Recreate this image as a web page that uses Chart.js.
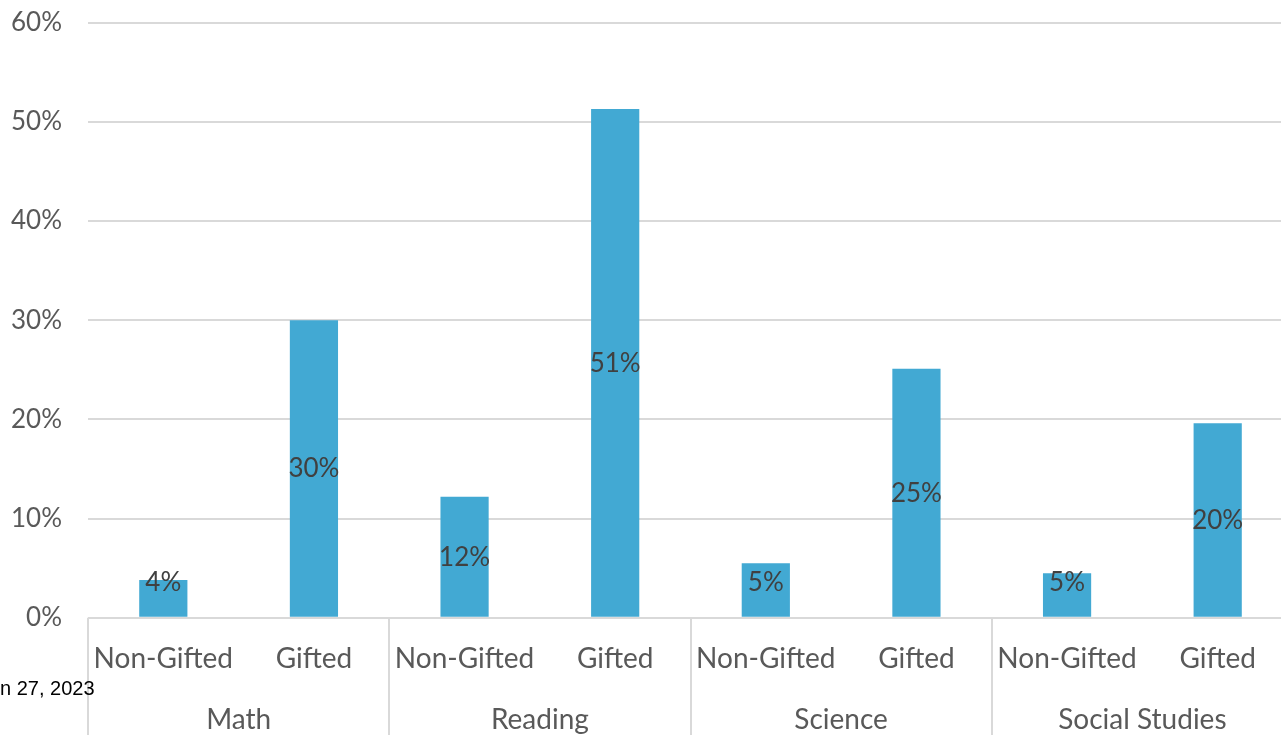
<!DOCTYPE html>
<html>
<head>
<meta charset="utf-8">
<script src="https://cdn.jsdelivr.net/npm/chart.js@4/dist/chart.umd.min.js"></script>
<style>
    html, body {
        margin: 0;
        padding: 0;
        background: #ffffff;
        overflow: hidden;
    }
    .wrap {
        position: absolute;
        left: 0;
        top: -19px;
        width: 1293px;
        height: 761px;
    }
    .stamp {
        position: absolute;
        left: 0;
        top: 677px;
        font-family: "Liberation Sans", Arial, sans-serif;
        font-size: 20px;
        color: #000000;
    }
</style>
</head>
<body>
<div class="wrap">
    <canvas id="myChart"></canvas>
</div>
<div class="stamp">n 27, 2023</div>
<script>
const groups = ['Math', 'Reading', 'Science', 'Social Studies'];
const subLabels = ['Non-Gifted', 'Gifted', 'Non-Gifted', 'Gifted', 'Non-Gifted', 'Gifted', 'Non-Gifted', 'Gifted'];
const values = [0.038, 0.30, 0.122, 0.513, 0.055, 0.251, 0.045, 0.196];
const valueLabels = ['4%', '30%', '12%', '51%', '5%', '25%', '5%', '20%'];
const yTicks = [0, 0.1, 0.2, 0.3, 0.4, 0.5, 0.6];

const gray = '#595959';
const lineGray = '#d9d9d9';
const font = '"Lato", "Open Sans", sans-serif';

// value text in the middle of each bar, kept off the axis for short bars
const barLabels = {
    id: 'barLabels',
    afterDatasetsDraw(chart) {
        const ctx = chart.ctx;
        const meta = chart.getDatasetMeta(0);
        const base = chart.scales.y.getPixelForValue(0);
        ctx.save();
        ctx.font = '26px ' + font;
        ctx.fillStyle = '#404040';
        ctx.textAlign = 'center';
        ctx.textBaseline = 'middle';
        meta.data.forEach((bar, i) => {
            const mid = (bar.y + base) / 2;
            ctx.fillText(valueLabels[i], bar.x, Math.min(mid, base - 35));
        });
        ctx.restore();
    }
};

// vertical separators between the category groups
const groupLines = {
    id: 'groupLines',
    afterDraw(chart) {
        const ctx = chart.ctx;
        const x = chart.scales.x;
        const half = (x.getPixelForValue(1) - x.getPixelForValue(0)) / 2;
        ctx.save();
        ctx.strokeStyle = lineGray;
        ctx.lineWidth = 2;
        for (let g = 0; g <= groups.length; g++) {
            const px = Math.round(x.getPixelForValue(g * 2) - half);
            ctx.beginPath();
            ctx.moveTo(px, chart.chartArea.bottom);
            ctx.lineTo(px, chart.height);
            ctx.stroke();
        }
        ctx.restore();
    }
};

const ctx = document.getElementById('myChart').getContext('2d');
new Chart(ctx, {
    type: 'bar',
    data: {
        labels: subLabels.map((s, i) => groups[Math.floor(i / 2)] + ' ' + s),
        datasets: [{
            data: values,
            backgroundColor: '#42a9d3',
            barPercentage: 0.32,
            categoryPercentage: 1
        }]
    },
    options: {
        responsive: true,
        maintainAspectRatio: false,
        animation: false,
        layout: {
            padding: { top: 0, right: 0, bottom: 1, left: 0 }
        },
        plugins: {
            legend: { display: false },
            tooltip: { enabled: false }
        },
        scales: {
            x: {
                grid: { display: false },
                border: { display: false },
                ticks: {
                    color: gray,
                    font: { family: font, size: 28 },
                    padding: 16,
                    maxRotation: 0,
                    autoSkip: false,
                    callback: (v, i) => subLabels[i]
                }
            },
            x2: {
                type: 'category',
                position: 'bottom',
                labels: groups,
                offset: true,
                grid: { display: false },
                border: { display: false },
                ticks: {
                    color: gray,
                    font: { family: font, size: 28 },
                    padding: 4,
                    maxRotation: 0
                }
            },
            y: {
                min: 0,
                max: 0.6,
                grid: {
                    color: lineGray,
                    lineWidth: 2,
                    drawTicks: false
                },
                border: { display: false },
                afterBuildTicks: (scale) => {
                    scale.ticks = yTicks.map(v => ({ value: v }));
                },
                afterFit: (scale) => {
                    scale.width = 88;
                },
                ticks: {
                    color: gray,
                    font: { family: font, size: 26 },
                    padding: 26,
                    callback: (v) => Math.round(v * 100) + '%'
                }
            }
        }
    },
    plugins: [barLabels, groupLines]
});
</script>
</body>
</html>
